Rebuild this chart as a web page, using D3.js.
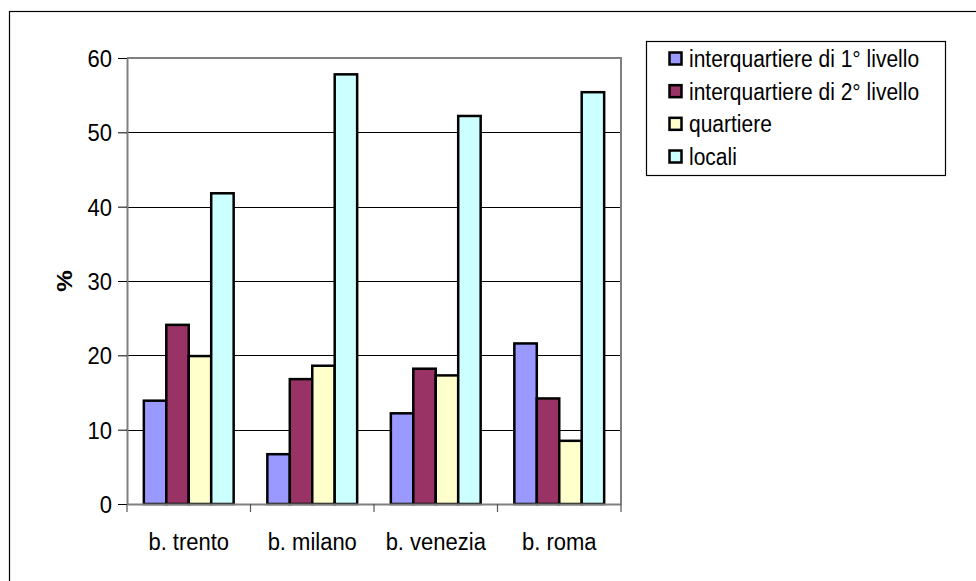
<!DOCTYPE html>
<html>
<head>
<meta charset="utf-8">
<script src="https://cdn.jsdelivr.net/npm/d3@7"></script>
<style>
  html, body { margin: 0; padding: 0; background: #fff; }
  svg { display: block; }
  text { font-family: Arial, "Liberation Sans", sans-serif; fill: #000; }
</style>
</head>
<body>
<svg id="chart" width="976" height="581"></svg>
<script>
// Categories, series and values
const categories = ["b. trento", "b. milano", "b. venezia", "b. roma"];
const seriesNames = ["interquartiere di 1° livello", "interquartiere di 2° livello", "quartiere", "locali"];
const seriesColors = ["#9999FF", "#993366", "#FFFFCC", "#CCFFFF"];
const interquartiere1 = [13.9, 6.7, 12.2, 21.6];
const interquartiere2 = [24.1, 16.8, 18.2, 14.2];
const quartiere = [19.9, 18.6, 17.3, 8.5];
const locali = [41.8, 57.8, 52.2, 55.4];
const yTicks = [0, 10, 20, 30, 40, 50, 60];
const yLabel = "%";

const seriesValues = [interquartiere1, interquartiere2, quartiere, locali];

const svg = d3.select("#chart");
const plot = { left: 127, right: 621, top: 58, bottom: 504 };
const textStretch = 1.1;

// Outer chart frame (extends beyond the page on the right and bottom)
svg.append("rect")
  .attr("x", 9.5).attr("y", 11.5)
  .attr("width", 1000).attr("height", 600)
  .attr("fill", "none").attr("stroke", "#000").attr("stroke-width", 1.2);

const x0 = d3.scaleBand().domain(categories).range([plot.left, plot.right]).paddingInner(0).paddingOuter(0);
const x1 = d3.scaleBand().domain(seriesNames).range([0, x0.bandwidth()]).paddingInner(0).paddingOuter(0.75);
const y = d3.scaleLinear().domain([0, 60]).range([plot.bottom, plot.top]);

// Horizontal gridlines
svg.append("g")
  .selectAll("line")
  .data(yTicks.filter(t => t > 0 && t < 60))
  .join("line")
  .attr("x1", plot.left).attr("x2", plot.right)
  .attr("y1", d => Math.round(y(d)) + 0.5).attr("y2", d => Math.round(y(d)) + 0.5)
  .attr("stroke", "#000").attr("stroke-width", 1);

// Plot area border (top and right)
svg.append("path")
  .attr("d", `M${plot.left},${plot.top} H${plot.right} V${plot.bottom}`)
  .attr("fill", "none").attr("stroke", "#808080").attr("stroke-width", 2);

// Bars
const groups = svg.append("g")
  .selectAll("g")
  .data(categories)
  .join("g")
  .attr("transform", d => `translate(${x0(d)},0)`);

groups.selectAll("rect")
  .data((c, ci) => seriesNames.map((s, si) => ({ s, si, v: seriesValues[si][ci] })))
  .join("rect")
  .attr("x", d => x1(d.s))
  .attr("width", x1.bandwidth())
  .attr("y", d => y(d.v))
  .attr("height", d => y(0) - y(d.v))
  .attr("fill", d => seriesColors[d.si])
  .attr("stroke", "#000").attr("stroke-width", 2.5);

// Y axis
const yAxis = d3.axisLeft(y).tickValues(yTicks).tickSize(9).tickPadding(4).tickSizeOuter(0);
const yg = svg.append("g").attr("transform", `translate(${plot.left},0)`).call(yAxis);
yg.select(".domain").attr("stroke", "#808080").attr("stroke-width", 2);
yg.selectAll(".tick line").attr("stroke", "#000");
yg.selectAll(".tick text")
  .attr("font-size", 22)
  .attr("font-family", "Arial, 'Liberation Sans', sans-serif")
  .attr("fill", "#000")
  .attr("dy", null)
  .attr("x", null)
  .attr("transform", `translate(-15,0) scale(1,${textStretch})`)
  .attr("dominant-baseline", "central");

// X axis
const xAxis = d3.axisBottom(x0).tickSize(0).tickPadding(0).tickSizeOuter(0);
const xg = svg.append("g").attr("transform", `translate(0,${plot.bottom})`).call(xAxis);
xg.select(".domain").attr("stroke", "#808080").attr("stroke-width", 2);
xg.selectAll(".tick text")
  .attr("font-size", 22)
  .attr("font-family", "Arial, 'Liberation Sans', sans-serif")
  .attr("fill", "#000")
  .attr("y", null).attr("dy", null)
  .attr("transform", `translate(0,46) scale(1,${textStretch})`);

// Category separator ticks
svg.append("g")
  .selectAll("line")
  .data(d3.range(categories.length + 1))
  .join("line")
  .attr("x1", i => plot.left + i * x0.step()).attr("x2", i => plot.left + i * x0.step())
  .attr("y1", plot.bottom).attr("y2", plot.bottom + 8)
  .attr("stroke", "#555").attr("stroke-width", 1.2);

// Y axis title
svg.append("text")
  .attr("transform", `translate(64,${(plot.top + plot.bottom) / 2}) rotate(-90) scale(${textStretch},1)`)
  .attr("text-anchor", "middle")
  .attr("dominant-baseline", "central")
  .attr("font-size", 22)
  .attr("font-weight", "bold")
  .text(yLabel);

// Legend
const legend = svg.append("g");
legend.append("rect")
  .attr("x", 646.5).attr("y", 41.5).attr("width", 299).attr("height", 134)
  .attr("fill", "#fff").attr("stroke", "#000").attr("stroke-width", 1.2);

const rowY = d3.scalePoint().domain(seriesNames).range([59, 157]);
const items = legend.selectAll("g.item")
  .data(seriesNames)
  .join("g")
  .attr("class", "item")
  .attr("transform", d => `translate(0,${rowY(d)})`);

items.append("rect")
  .attr("x", 669.5).attr("y", -6.5).attr("width", 12).attr("height", 12)
  .attr("fill", (d, i) => seriesColors[i])
  .attr("stroke", "#000").attr("stroke-width", 2.5);

items.append("text")
  .attr("transform", `translate(689,0) scale(1,${textStretch})`)
  .attr("dominant-baseline", "central")
  .attr("font-size", 21)
  .text(d => d);
</script>
</body>
</html>
